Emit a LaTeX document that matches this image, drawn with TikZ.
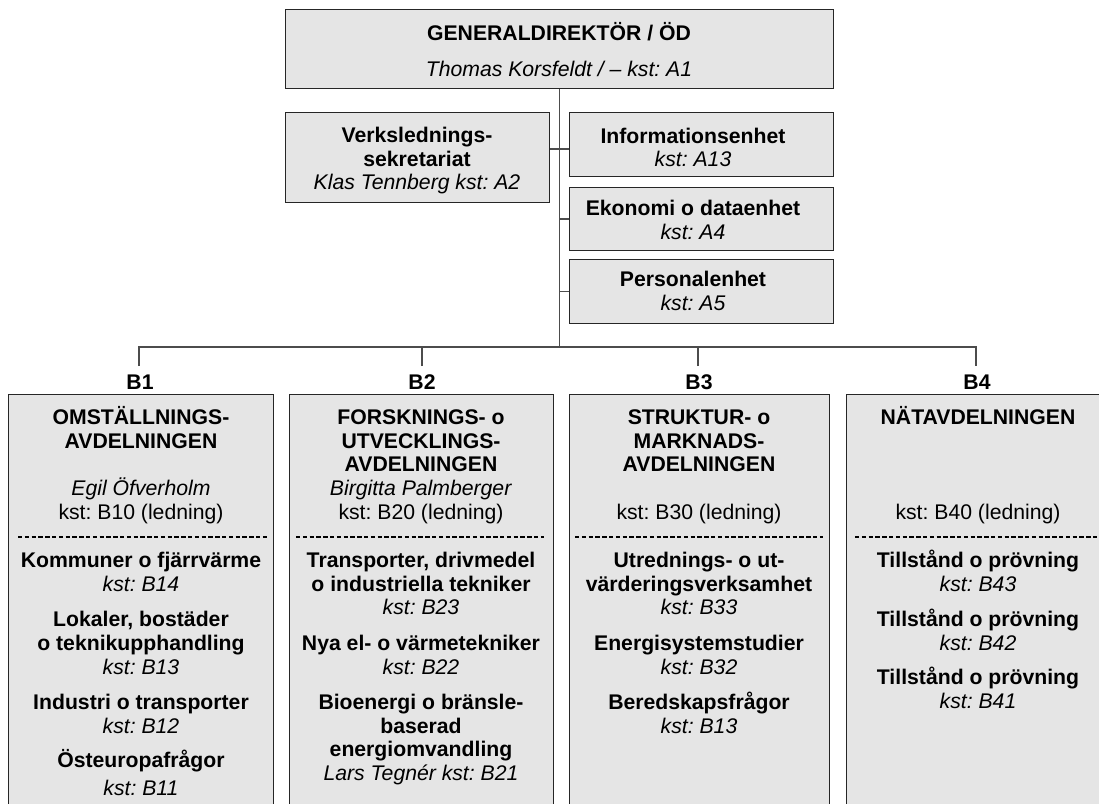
\documentclass[tikz,border=0pt]{standalone}
\usepackage{fontspec}
\setmainfont{Liberation Sans}
\definecolor{boxgray}{HTML}{E5E5E5}
\frenchspacing
\begin{document}
\begin{tikzpicture}[x=1pt,y=-1pt,
  box/.style={draw=black!85, line width=1.2pt, fill=boxgray, inner sep=0pt, anchor=north west},
  txt/.style={font=\fontsize{21.2}{23.7}\selectfont\frenchspacing, align=center, inner sep=0pt, anchor=base},
  link/.style={draw=black!70, line width=1.3pt},
  sepline/.style={line width=2pt, dash pattern=on 4.4pt off 2.4pt}]
\useasboundingbox (0,0) rectangle (1099,803);
\fill[white] (0,0) rectangle (1099,803);
\clip (0,0) rectangle (1099,803);

% ---------- top part ----------
\node[box, minimum width=548pt, minimum height=79pt] (gd) at (285,9) {};
\node[txt] (gdt1) at (559,40.6) {\textbf{GENERALDIREKTÖR / ÖD}};
\node[txt] (gdt2) at (559,76.5) {\textit{Thomas Korsfeldt / – kst: A1}};

\node[box, minimum width=264pt, minimum height=90pt] (vs) at (285,112) {};
\node[txt] (vst) at (417,189.9) {\textbf{Verkslednings-}\\\textbf{sekretariat}\\\textit{Klas Tennberg kst: A2}};

\node[box, minimum width=264pt, minimum height=64pt] (info) at (569,112) {};
\node[txt] (infot) at (693,166.8) {\textbf{Informationsenhet}\\\textit{kst: A13}};

\node[box, minimum width=264pt, minimum height=63pt] (ek) at (569,187) {};
\node[txt] (ekt) at (693,239.2) {\textbf{Ekonomi o dataenhet}\\\textit{kst: A4}};

\node[box, minimum width=264pt, minimum height=64pt] (pe) at (569,259) {};
\node[txt] (pet) at (693,310.2) {\textbf{Personalenhet}\\\textit{kst: A5}};

% ---------- connectors ----------
\coordinate (bus) at (0,347);
\coordinate (vy) at (0,149);
\coordinate (t1) at (139,366);
\coordinate (t2) at (422,366);
\coordinate (t3) at (698,366);
\coordinate (t4) at (976,366);
\draw[link] (gd.south) -- (gd.south |- bus);
\draw[link] (vs.east |- vy) -- (info.west |- vy);
\draw[link] (ek.west -| gd.south) -- (ek.west);
\draw[link] (pe.west -| gd.south) -- (pe.west);
\draw[link] (t1) -- (t1 |- bus) -- (t4 |- bus) -- (t4);
\draw[link] (t2) -- (t2 |- bus);
\draw[link] (t3) -- (t3 |- bus);

% ---------- column labels ----------
\node[txt] (b1) at (140,389.5) {\textbf{B1}};
\node[txt] (b2) at (422,389.5) {\textbf{B2}};
\node[txt] (b3) at (699,389.5) {\textbf{B3}};
\node[txt] (b4) at (977,389.5) {\textbf{B4}};

% ---------- column boxes ----------
\node[box, minimum width=265pt, minimum height=436pt] (c1) at (8,394) {};
\node[box, minimum width=264pt, minimum height=436pt] (c2) at (289,394) {};
\node[box, minimum width=260pt, minimum height=436pt] (c3) at (569,394) {};
\node[box, minimum width=264pt, minimum height=436pt] (c4) at (846,394) {};

\coordinate (sepy) at (0,537);
\draw[sepline] ([xshift=10pt]c1.west |- sepy) -- ([xshift=-7pt]c1.east |- sepy);
\draw[sepline] ([xshift=7pt]c2.west |- sepy) -- ([xshift=-10pt]c2.east |- sepy);
\draw[sepline] ([xshift=6pt]c3.west |- sepy) -- ([xshift=-7pt]c3.east |- sepy);
\draw[sepline] ([xshift=9pt]c4.west |- sepy) -- ([xshift=-5pt]c4.east |- sepy);

% column 1
\node[txt] (c1h) at (141,448.2) {\textbf{OMSTÄLLNINGS-}\\\textbf{AVDELNINGEN}};
\node[txt] (c1m) at (141,519.2) {\textit{Egil Öfverholm}\\kst: B10 (ledning)};
\node[txt] (c1a) at (141,591.2) {\textbf{Kommuner o fjärrvärme}\\\textit{kst: B14}};
\node[txt] (c1b) at (141,674) {\textbf{Lokaler, bostäder}\\\textbf{o teknikupphandling}\\\textit{kst: B13}};
\node[txt] (c1c) at (141,733.2) {\textbf{Industri o transporter}\\\textit{kst: B12}};
\node[txt] (c1d) at (141,767.5) {\textbf{Östeuropafrågor}};
\node[txt] (c1e) at (141,795.5) {\textit{kst: B11}};

% column 2
\node[txt] (c2h) at (421,471.9) {\textbf{FORSKNINGS- o}\\\textbf{UTVECKLINGS-}\\\textbf{AVDELNINGEN}};
\node[txt] (c2m) at (421,519.2) {\textit{Birgitta Palmberger}\\kst: B20 (ledning)};
\node[txt] (c2a) at (421,614.9) {\textbf{Transporter, drivmedel}\\\textbf{o industriella tekniker}\\\textit{kst: B23}};
\node[txt] (c2b) at (421,674.2) {\textbf{Nya el- o värmetekniker}\\\textit{kst: B22}};
\node[txt] (c2c) at (421,780.6) {\textbf{Bioenergi o bränsle-}\\\textbf{baserad}\\\textbf{energiomvandling}\\\textit{Lars Tegnér kst: B21}};

% column 3
\node[txt] (c3h) at (699,471.9) {\textbf{STRUKTUR- o}\\\textbf{MARKNADS-}\\\textbf{AVDELNINGEN}};
\node[txt] (c3m) at (699,519.5) {kst: B30 (ledning)};
\node[txt] (c3a) at (699,614.9) {\textbf{Utrednings- o ut-}\\\textbf{värderingsverksamhet}\\\textit{kst: B33}};
\node[txt] (c3b) at (699,674.2) {\textbf{Energisystemstudier}\\\textit{kst: B32}};
\node[txt] (c3c) at (699,733.2) {\textbf{Beredskapsfrågor}\\\textit{kst: B13}};

% column 4
\node[txt] (c4h) at (978,424.5) {\textbf{NÄTAVDELNINGEN}};
\node[txt] (c4m) at (978,519.5) {kst: B40 (ledning)};
\node[txt] (c4a) at (978,591.2) {\textbf{Tillstånd o prövning}\\\textit{kst: B43}};
\node[txt] (c4b) at (978,650) {\textbf{Tillstånd o prövning}\\\textit{kst: B42}};
\node[txt] (c4c) at (978,708.2) {\textbf{Tillstånd o prövning}\\\textit{kst: B41}};
\end{tikzpicture}
\end{document}
